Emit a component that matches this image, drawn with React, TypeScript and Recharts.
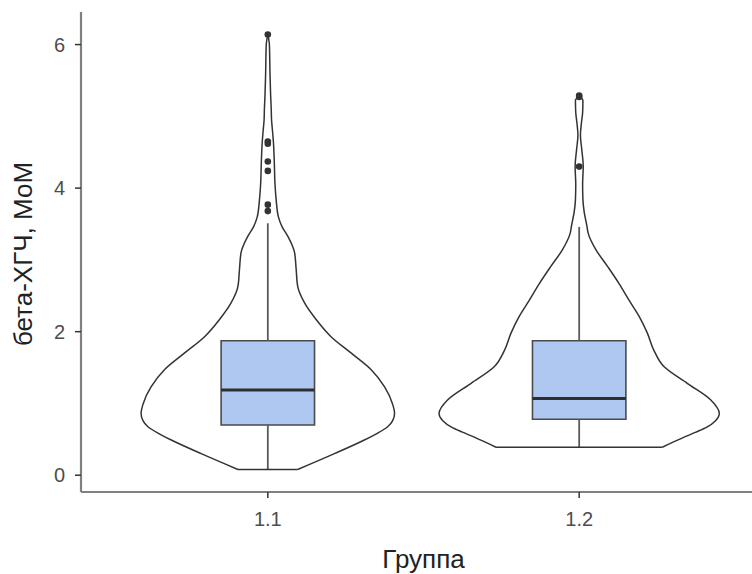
import React from 'react';
import { ComposedChart, XAxis, YAxis, Scatter, ReferenceArea, ReferenceLine, Label } from 'recharts';

// Categories and tick labels
const categories = ['1.1', '1.2'];
const yTicks = [0, 2, 4, 6];

// Violin outline for group 1.1: levels (бета-ХГЧ, МоМ) and half-widths (x units)
const violin1Levels = [6.14, 6.0, 5.6, 5.3, 5.1, 4.95, 4.8, 4.64, 4.34, 4.06, 3.83, 3.6, 3.46, 3.33, 3.1, 2.87, 2.63, 2.4, 2.17, 1.93, 1.7, 1.47, 1.23, 1.0, 0.86, 0.76, 0.675, 0.58, 0.49, 0.3, 0.08];
const violin1HalfWidths = [0, 0.005, 0.007, 0.009, 0.011, 0.012, 0.015, 0.018, 0.021, 0.023, 0.027, 0.034, 0.046, 0.064, 0.086, 0.091, 0.096, 0.118, 0.155, 0.203, 0.268, 0.332, 0.375, 0.4, 0.407, 0.401, 0.385, 0.35, 0.31, 0.214, 0.096];

// Violin outline for group 1.2
const violin2Levels = [5.29, 5.22, 5.05, 4.9, 4.74, 4.55, 4.3, 4.05, 3.84, 3.67, 3.49, 3.37, 3.14, 2.91, 2.67, 2.44, 2.21, 1.98, 1.74, 1.51, 1.28, 1.05, 0.86, 0.76, 0.67, 0.6, 0.53, 0.39];
const violin2HalfWidths = [0, 0.012, 0.011, 0.007, 0.004, 0.008, 0.013, 0.011, 0.012, 0.016, 0.024, 0.029, 0.054, 0.091, 0.128, 0.16, 0.193, 0.219, 0.24, 0.273, 0.347, 0.422, 0.45, 0.438, 0.41, 0.375, 0.337, 0.267];

// Box plot statistics
const boxQ1 = [0.7, 0.78];
const boxMedian = [1.186, 1.07];
const boxQ3 = [1.874, 1.874];
const whiskerLow = [0.08, 0.39];
const whiskerHigh = [3.51, 3.46];

// Outliers
const outliers1 = [6.14, 4.65, 4.62, 4.37, 4.24, 3.77, 3.68];
const outliers2 = [5.29, 5.27, 4.3];

const violinLevels = [violin1Levels, violin2Levels];
const violinHalfWidths = [violin1HalfWidths, violin2HalfWidths];
const outliers = [outliers1, outliers2];

const BOX_HALF = 0.15;
const FONT = 'Liberation Sans, Arial, sans-serif';

const NoShape = () => <g />;
const Dot = (props: any) => <circle cx={props.cx} cy={props.cy} r={3.3} fill="#333333" />;

const groups = categories.map((_, i) => {
  const pos = i + 1;
  const lv = violinLevels[i];
  const hw = violinHalfWidths[i];
  const right = lv.map((v, k) => ({ x: pos + hw[k], y: v }));
  const left = lv.map((v, k) => ({ x: pos - hw[k], y: v }));
  const last = lv.length - 1;
  const bottom = [
    { x: pos - hw[last], y: lv[last] },
    { x: pos + hw[last], y: lv[last] },
  ];
  const pts = outliers[i].map((v) => ({ x: pos, y: v }));
  return { pos, right, left, bottom, pts };
});

const outlineLine = { stroke: '#333333', strokeWidth: 1.5, fill: 'none' };

export default function App() {
  return (
    <div style={{ position: 'fixed', left: 0, top: 0, width: 752, height: 574, overflow: 'hidden', background: '#ffffff' }}>
      <ComposedChart width={770} height={574} margin={{ top: 12, right: 4, bottom: 0, left: 0 }}>
        <XAxis
          type="number"
          dataKey="x"
          domain={[0.4, 2.6]}
          ticks={[1, 2]}
          allowDataOverflow
          tickFormatter={(v: number) => categories[Math.round(v) - 1]}
          axisLine={{ stroke: '#808080', strokeWidth: 2.2 }}
          tickLine={{ stroke: '#333333', strokeWidth: 1.5 }}
          tickSize={6}
          tickMargin={14}
          tick={{ fill: '#4d4d4d', fontSize: 20, fontFamily: FONT }}
          height={82}
        >
          <Label value="Группа" position="insideBottom" offset={6} fontSize={26} fill="#222222" fontFamily={FONT} />
        </XAxis>
        <YAxis
          type="number"
          dataKey="y"
          domain={[-0.234, 6.454]}
          ticks={yTicks}
          allowDataOverflow
          axisLine={{ stroke: '#808080', strokeWidth: 2.2 }}
          tickLine={{ stroke: '#333333', strokeWidth: 1.5 }}
          tickSize={6}
          tickMargin={10}
          tick={{ fill: '#4d4d4d', fontSize: 20, fontFamily: FONT }}
          width={81}
        >
          <Label
            content={(p: any) => {
              const vb = p.viewBox || { y: 12, height: 480 };
              const cx = 32;
              const cy = vb.y + vb.height / 2 + 2;
              return (
                <text x={cx} y={cy} transform={`rotate(-90 ${cx} ${cy})`} textAnchor="middle" fontSize={26} fill="#222222" fontFamily={FONT}>
                  бета-ХГЧ, МоМ
                </text>
              );
            }}
          />
        </YAxis>

        {groups.map((g, i) => (
          <Scatter key={`vr${i}`} data={g.right} line={outlineLine} lineJointType="monotoneY" shape={NoShape} isAnimationActive={false} />
        ))}
        {groups.map((g, i) => (
          <Scatter key={`vl${i}`} data={g.left} line={outlineLine} lineJointType="monotoneY" shape={NoShape} isAnimationActive={false} />
        ))}
        {groups.map((g, i) => (
          <Scatter key={`vb${i}`} data={g.bottom} line={outlineLine} shape={NoShape} isAnimationActive={false} />
        ))}

        {groups.map((g, i) => (
          <ReferenceLine key={`wh${i}`} segment={[{ x: g.pos, y: boxQ3[i] }, { x: g.pos, y: whiskerHigh[i] }]} stroke="#5a5a5a" strokeWidth={1.8} ifOverflow="visible" />
        ))}
        {groups.map((g, i) => (
          <ReferenceLine key={`wl${i}`} segment={[{ x: g.pos, y: boxQ1[i] }, { x: g.pos, y: whiskerLow[i] }]} stroke="#5a5a5a" strokeWidth={1.8} ifOverflow="visible" />
        ))}
        {groups.map((g, i) => (
          <ReferenceArea key={`box${i}`} x1={g.pos - BOX_HALF} x2={g.pos + BOX_HALF} y1={boxQ1[i]} y2={boxQ3[i]} fill="#aec8f2" fillOpacity={1} stroke="#4a4a4a" strokeWidth={1.6} ifOverflow="visible" />
        ))}
        {groups.map((g, i) => (
          <ReferenceLine key={`md${i}`} segment={[{ x: g.pos - BOX_HALF, y: boxMedian[i] }, { x: g.pos + BOX_HALF, y: boxMedian[i] }]} stroke="#2e2e2e" strokeWidth={3} ifOverflow="visible" />
        ))}
        {groups.map((g, i) => (
          <Scatter key={`out${i}`} data={g.pts} shape={Dot} isAnimationActive={false} />
        ))}
      </ComposedChart>
    </div>
  );
}
